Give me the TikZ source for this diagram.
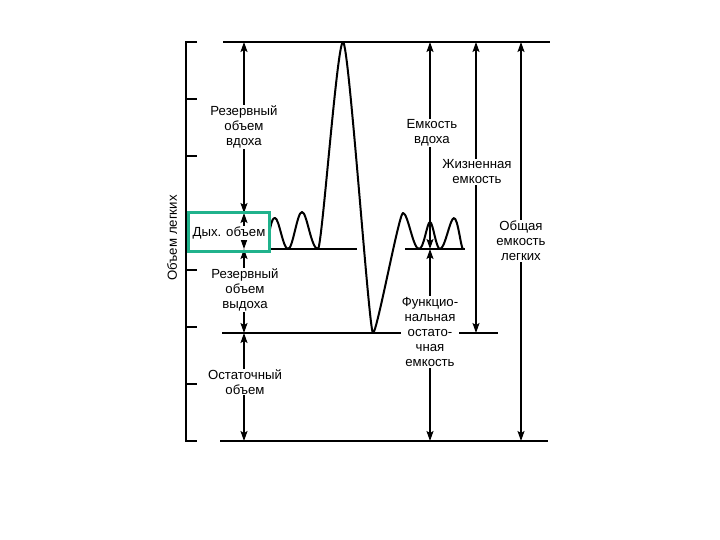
\documentclass[tikz,border=0pt]{standalone}
\usepackage{fontspec}
\setmainfont{Liberation Sans}
\usetikzlibrary{arrows.meta}
\definecolor{tvgreen}{RGB}{32,178,140}

\begin{document}
\begin{tikzpicture}[
    x=1pt, y=-1pt,
    >={Stealth[length=10pt,width=7pt,inset=2pt]},
    lbl/.style={fill=white, inner sep=1pt, align=center, font=\fontsize{13.2}{15}\selectfont},
    dim/.style={<->, line width=1.4pt},
    level/.style={line width=2.3pt},
    trace/.style={line width=2pt, line join=round},
    tvbox/.style={draw=tvgreen, line width=3pt, minimum width=81pt, minimum height=38pt}
]
    \useasboundingbox (0,0) rectangle (720,540);

    % volume axis
    \draw[line width=2pt] (197,42) -- (186,42) -- (186,441) -- (197,441);
    \foreach \y in {99,156,213,270,327,384}
        \draw[line width=2pt] (186,\y) -- (197,\y);

    % levels
    \coordinate (maxL) at (223,42);   \coordinate (maxR) at (550,42);
    \coordinate (tidL) at (270,249);  \coordinate (tidM) at (357,249);
    \coordinate (tidN) at (405,249);  \coordinate (tidR) at (465,249);
    \coordinate (resL) at (222,333);  \coordinate (resR) at (498,333);
    \coordinate (minL) at (220,441);  \coordinate (minR) at (548,441);
    \draw[level] (maxL) -- (maxR);
    \draw[level] (tidL) -- (tidM);
    \draw[level] (tidN) -- (tidR);
    \draw[level] (resL) -- (resR);
    \draw[level] (minL) -- (minR);

    % spirogram
    \draw[trace] (270,229) .. controls (272,220) and (273,218) .. (275,218)
        .. controls (279,218) and (283,249) .. (288,249)
        .. controls (293,249) and (297,212) .. (302,212)
        .. controls (307,212) and (311,249) .. (318,249)
        .. controls (322,248) and (337,42) .. (343,42)
        .. controls (349,42) and (369,333) .. (373,333)
        .. controls (377,333) and (399,213) .. (403,213)
        .. controls (408,213) and (413,249) .. (419,249)
        .. controls (424,249) and (427,222) .. (430,222)
        .. controls (433,222) and (436,249) .. (440,249)
        .. controls (445,249) and (450,218) .. (454,218)
        .. controls (458,218) and (461,249) .. (463,249);

    % volumes
    \coordinate (v0) at (244,42);
    \coordinate (v1) at (244,213);
    \coordinate (v2) at (244,249);
    \coordinate (v3) at (244,333);
    \coordinate (v4) at (244,441);
    \draw[dim] (v0) -- (v1);
    \draw[dim] (v1) -- (v2);
    \draw[dim] (v2) -- (v3);
    \draw[dim] (v3) -- (v4);

    % capacities
    \coordinate (ic0) at (430,42);  \coordinate (ic1) at (430,249);
    \coordinate (fr1) at (430,441);
    \coordinate (vc0) at (476,42);  \coordinate (vc1) at (476,333);
    \coordinate (tl0) at (521,42);  \coordinate (tl1) at (521,441);
    \draw[dim] (ic0) -- (ic1);
    \draw[dim] (ic1) -- (fr1);
    \draw[dim] (vc0) -- (vc1);
    \draw[dim] (tl0) -- (tl1);

    \node[lbl, rotate=90] (axis) at (172,238) {Объем легких};
    \node[lbl] (irv) at (244,127) {Резервный\\объем\\вдоха};
    \node[lbl] (tv) at (229,233) {Дых. объем};
    \node[lbl] (erv) at (245,290) {Резервный\\объем\\выдоха};
    \node[lbl] (rv) at (245,382) {Остаточный\\объем};
    \node[lbl] (ic) at (432,133) {Емкость\\вдоха};
    \node[lbl] (vc) at (477,172) {Жизненная\\емкость};
    \node[lbl] (tlc) at (521,241) {Общая\\емкость\\легких};
    \node[lbl] (frc) at (430,332) {Функцио-\\нальная\\остато-\\чная\\емкость};

    \node[tvbox] (tvframe) at (228.5,232) {};
\end{tikzpicture}
\end{document}
